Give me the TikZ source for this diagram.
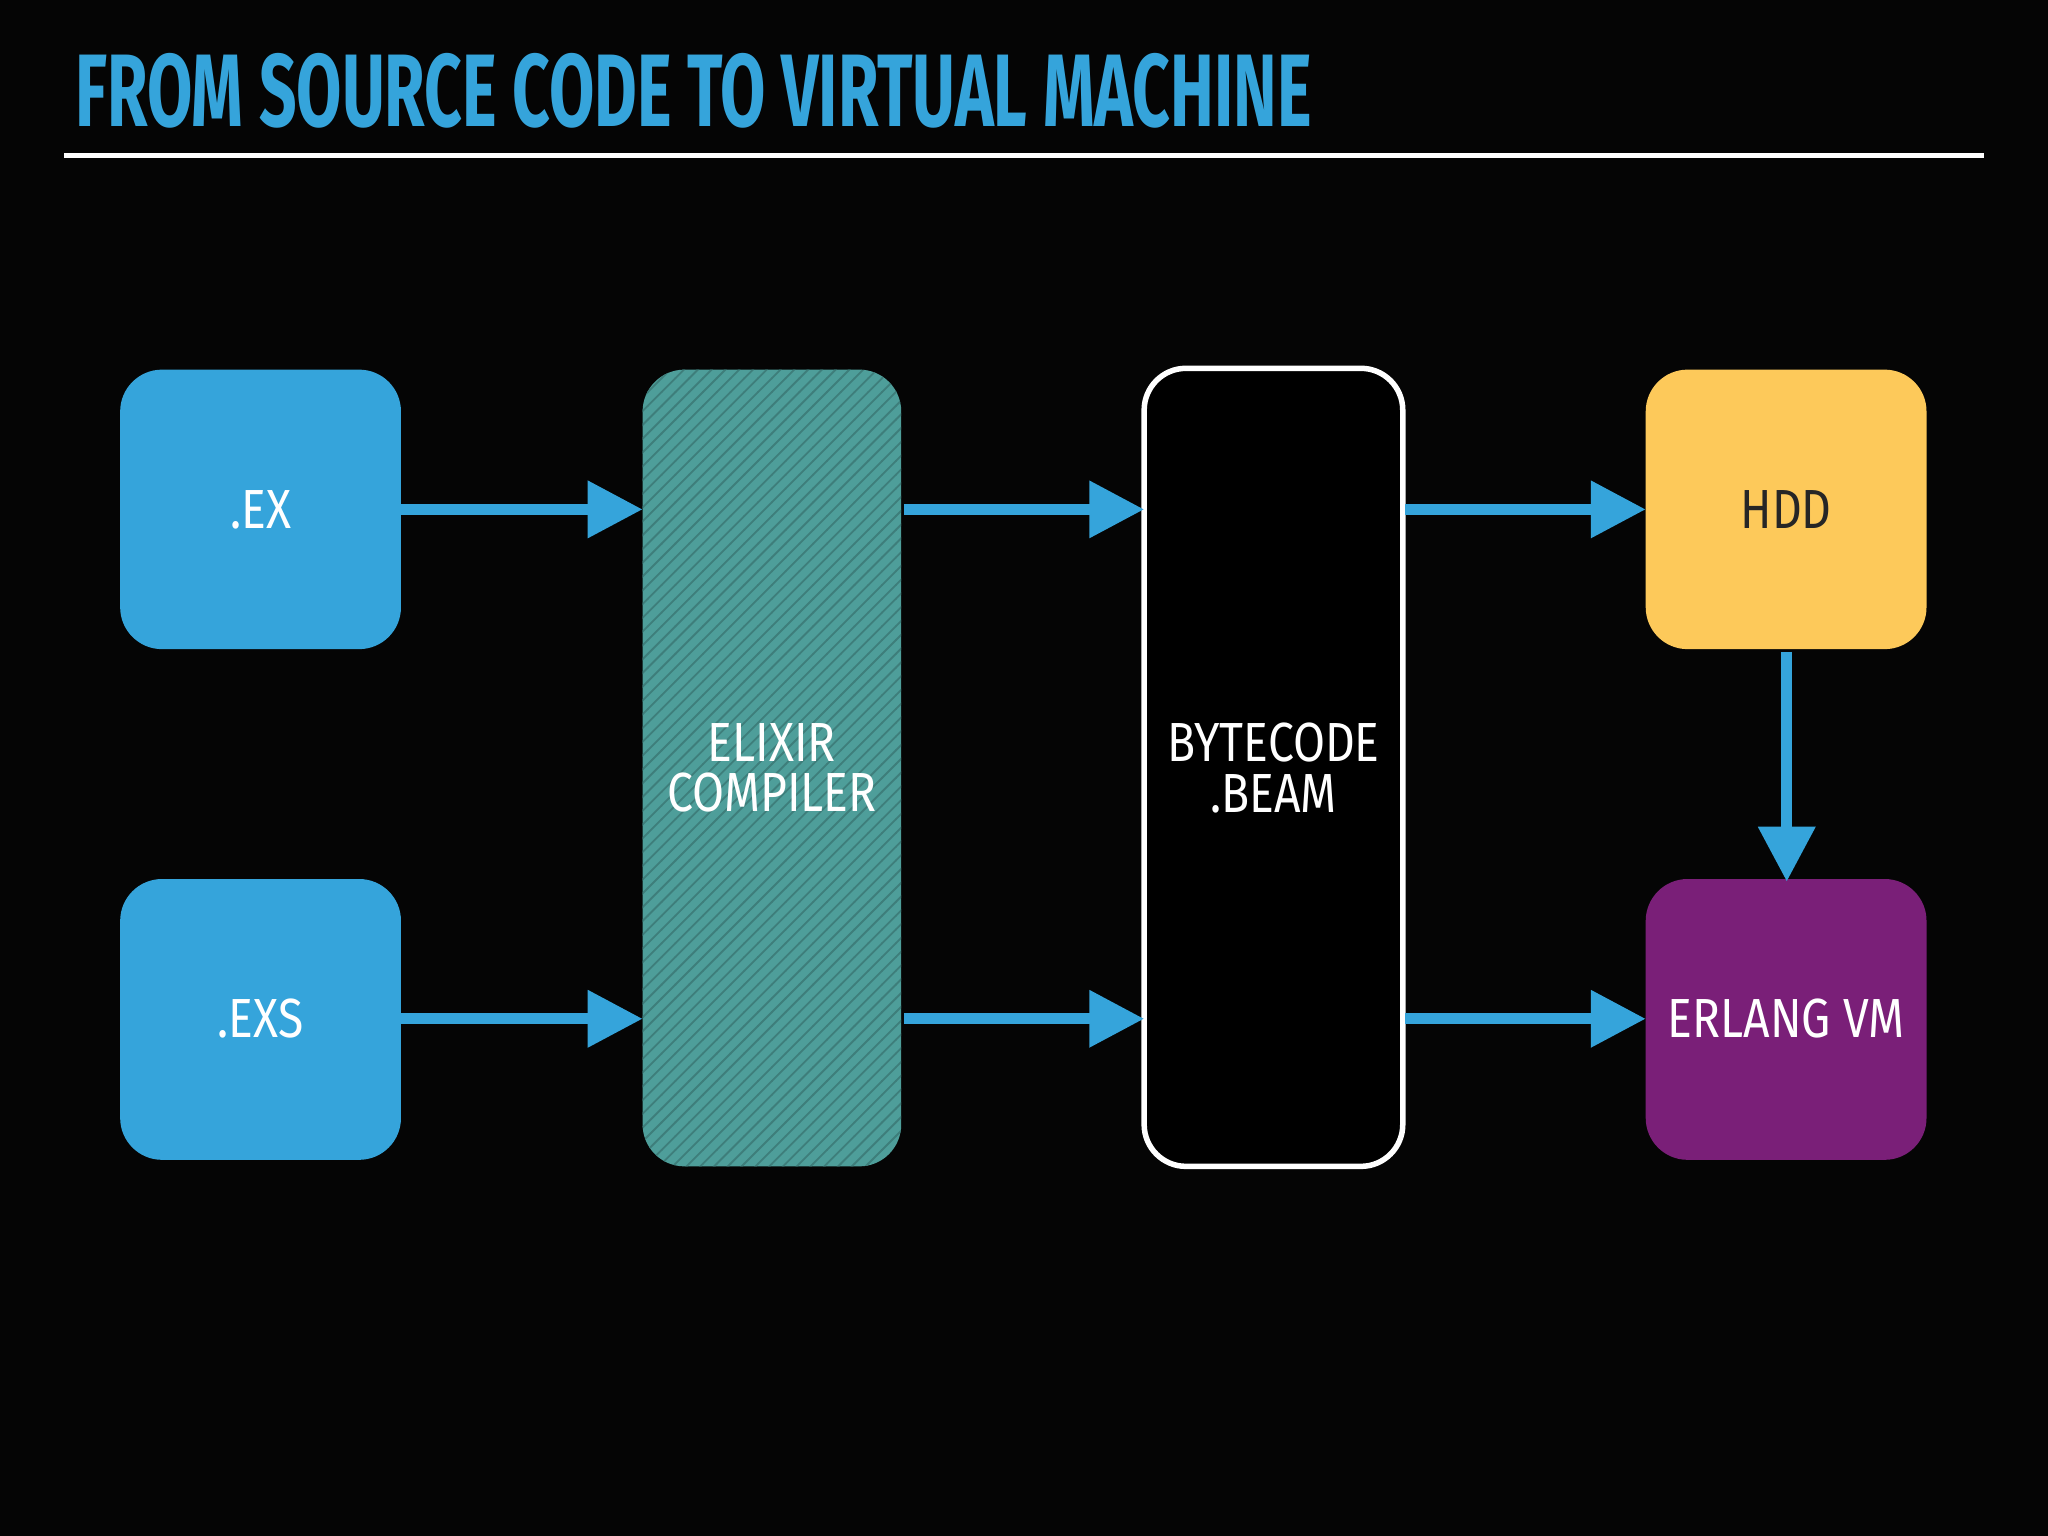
\documentclass[tikz,border=0pt]{standalone}
\usepackage{fontspec}
\setmainfont{Fira Sans}
\usetikzlibrary{arrows.meta,patterns}
\definecolor{bl}{HTML}{35A4DB}
\definecolor{te}{HTML}{4E9E9A}
\definecolor{ye}{HTML}{FDC95A}
\definecolor{pu}{HTML}{7A1F78}
\definecolor{bg}{HTML}{050505}
\newcommand{\nw}[1]{\scalebox{0.84}[1]{#1}}
\begin{document}
\begin{tikzpicture}[x=0.01cm,y=-0.01cm,
  box/.style={rounded corners=0.32cm,inner sep=0,font=\fontsize{12}{11}\fontseries{m}\selectfont,align=center,text=white},
  arr/.style={draw=bl,line width=2.3pt,-{Triangle[width=0.42cm,length=0.42cm]}}]
\fill[bg] (0,0) rectangle (1568,1176);
\useasboundingbox (0,0) rectangle (1568,1176);
\node[anchor=base west,text=bl,inner sep=0] (title) at (57,97) {\resizebox{9.46cm}{0.56cm}{\fontsize{20}{20}\selectfont\bfseries FROM SOURCE CODE TO VIRTUAL MACHINE}};
\draw[white,line width=1pt] (49,119) coordinate (r1) -- (1519,119) coordinate (r2);
\path[box,fill=bl] (92,283) rectangle (307,497); \node[box] (ex) at (199.5,390) {\nw{.EX}};
\coordinate (exE) at (307,390);
\path[box,fill=bl] (92,673) rectangle (307,888); \node[box] (exs) at (199.5,780) {\nw{.EXS}};
\coordinate (exsE) at (307,780);
\path[box,fill=te] (492,283) rectangle (690,893);
\path[box,pattern=north east lines,pattern color=te!80!black] (492,283) rectangle (690,893);
\node[box] (comp) at (591,588) {\nw{ELIXIR}\\\nw{COMPILER}};
\draw[box,draw=white,line width=1.2pt,fill=black] (876,282) rectangle (1074,893);
\node[box] (bc) at (975,588) {\nw{BYTECODE}\\\nw{.BEAM}};
\path[box,fill=ye] (1260,283) rectangle (1475,497); \node[box,text=black!85] (hdd) at (1367.5,390) {\nw{HDD}};
\path[box,fill=pu] (1260,673) rectangle (1475,888); \node[box] (vm) at (1367.5,780) {\nw{ERLANG VM}};
\draw[arr] (exE) -- (492,390);
\draw[arr] (exsE) -- (492,780);
\draw[arr] (692,390) -- (876,390);
\draw[arr] (692,780) -- (876,780);
\draw[arr] (1076,390) -- (1260,390);
\draw[arr] (1076,780) -- (1260,780);
\draw[arr] (1368,499) -- (1368,675);
\end{tikzpicture}
\end{document}
